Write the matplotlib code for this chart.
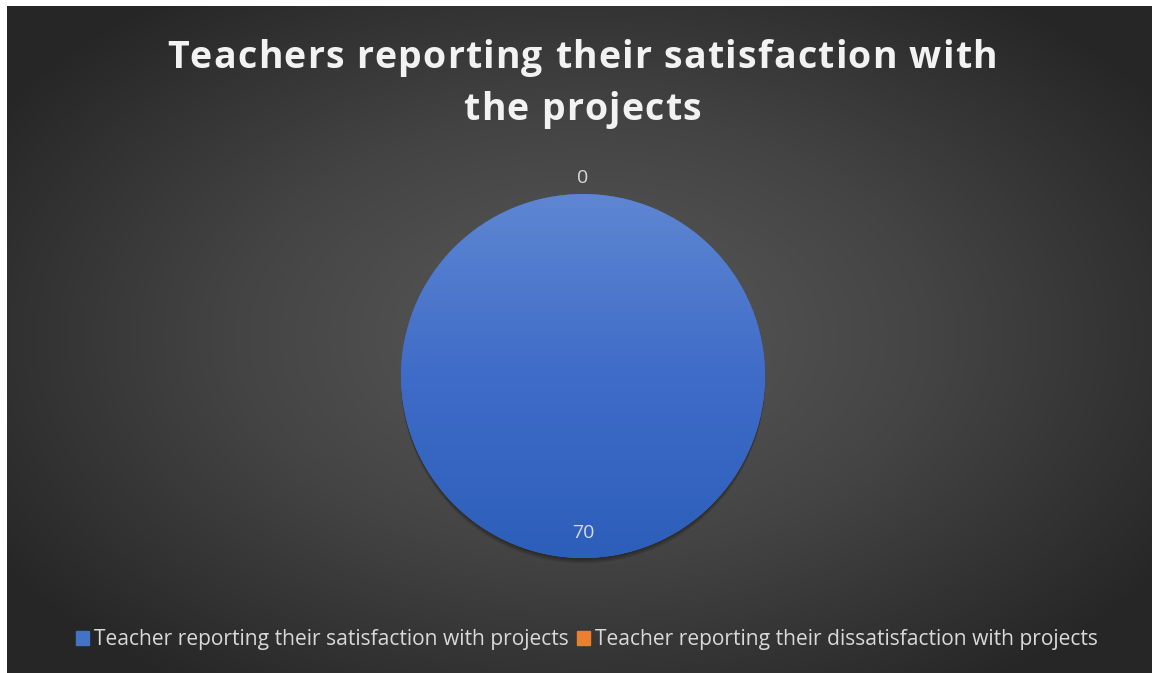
import numpy as np
import matplotlib
matplotlib.use("Agg")
import matplotlib.pyplot as plt
from matplotlib.colors import LinearSegmentedColormap

# data
labels = ["Teacher reporting their satisfaction with projects",
          "Teacher reporting their dissatisfaction with projects"]
values = [70, 0]
colors = ["#4472C4", "#ED7D31"]
title_lines = ["Teachers reporting their satisfaction with", "the projects"]

W, H = 1152, 673
fig = plt.figure(figsize=(W / 100, H / 100), dpi=100, facecolor="#262626")

# radial gradient background
bg = fig.add_axes([0, 0, 1, 1])
bg.set_axis_off()
yy, xx = np.mgrid[0:673, 0:1152]
cx, cy = 583, 336
d = np.sqrt(((xx - cx) / 700.0) ** 2 + ((yy - cy) / 430.0) ** 2)
d = np.clip(d, 0, 1)
bgcmap = LinearSegmentedColormap.from_list("bg", ["#5a5a5a", "#444444", "#262626"])
bg.imshow(d, cmap=bgcmap, aspect="auto", extent=[0, W, H, 0], vmin=0, vmax=1,
          interpolation="nearest")
# white strip top/left like the screenshot
bg.add_patch(plt.Rectangle((0, 0), W, 6, color="white", lw=0))
bg.add_patch(plt.Rectangle((0, 0), 7, H, color="white", lw=0))
bg.set_xlim(0, W)
bg.set_ylim(H, 0)

# title with letter spacing, drawn char by char
renderer = fig.canvas.get_renderer()
tprops = dict(color="#F2F2F2", fontsize=27, fontweight="bold", family="Open Sans",
              va="center", ha="left")
spacing = 1.25
for line, ly in zip(title_lines, [58, 110]):
    widths = []
    for ch in line:
        t = fig.text(0, 0, ch if ch != " " else "a a", **tprops)
        w = t.get_window_extent(renderer).width
        if ch == " ":
            t2 = fig.text(0, 0, "aa", **tprops)
            w = w - t2.get_window_extent(renderer).width
            t2.remove()
        widths.append(w)
        t.remove()
    total_w = sum(widths) + spacing * (len(line) - 1)
    x = 582 - total_w / 2
    for ch, w in zip(line, widths):
        if ch != " ":
            fig.text(x / W, 1 - ly / H, ch, **tprops)
        x += w + spacing

# pie axes: center (583, 376), radius 182 px
R = 182
lim = 1.25
half = R * lim
ax = fig.add_axes([(583 - half) / W, (H - 376 - half) / H, 2 * half / W, 2 * half / H])
ax.set_axis_off()

# soft shadow below the pie
for k in range(1, 6):
    ax.add_patch(plt.Circle((0.0, -0.006 * k), 1.0, color="black",
                            alpha=0.08, lw=0, zorder=1))

wedges, _ = ax.pie(values, colors=colors, startangle=90, counterclock=False,
                   radius=1.0, wedgeprops=dict(linewidth=0, zorder=2))
ax.set_xlim(-lim, lim)
ax.set_ylim(-lim, lim)
ax.set_aspect("equal")

# gradient fill over the wedges
grad = np.linspace(0, 1, 256).reshape(-1, 1)
cmaps = [LinearSegmentedColormap.from_list("b", ["#2C5FBA", "#3F6CC8", "#5E86D2"]),
         LinearSegmentedColormap.from_list("o", ["#D86A1E", "#F19250"])]
for w, cm in zip(wedges, cmaps):
    im = ax.imshow(grad, cmap=cm, extent=[-1, 1, -1, 1], origin="lower",
                   aspect="auto", zorder=3)
    im.set_clip_path(w)

# data labels (Excel best fit: big slice inside, zero slice outside)
total = sum(values)
start = 90.0
for v in values:
    frac = v / total
    mid = np.deg2rad(start - frac * 360 / 2)
    dist = 0.86 if frac > 0.5 else 1.09
    ax.text(dist * np.cos(mid), dist * np.sin(mid), str(v), ha="center", va="center",
            color="#D9D9D9", fontsize=14, family="Open Sans", zorder=5)
    start -= frac * 360

# legend
handles = [plt.Rectangle((0, 0), 1, 1, color=c) for c in colors]
fig.legend(handles, labels, loc="center", bbox_to_anchor=(587 / W, 1 - 640 / H),
           ncol=2, frameon=False, labelcolor="#D9D9D9",
           handlelength=0.6, handleheight=0.6, handletextpad=0.25, columnspacing=0.4,
           prop={"family": "Open Sans", "size": 15.1})

fig.savefig("out.png", dpi=100, facecolor=fig.get_facecolor())
